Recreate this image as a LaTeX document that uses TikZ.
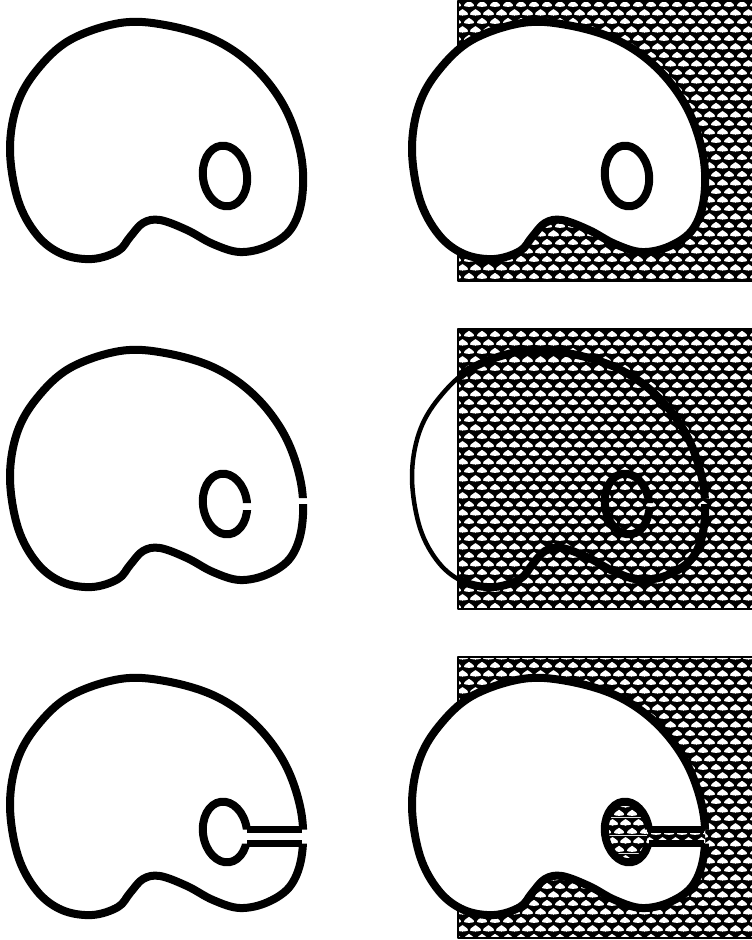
\documentclass[tikz,border=0pt]{standalone}
\usetikzlibrary{patterns}
\newcommand\scaleshape[2]{%
  \pgfpathmoveto{\pgfpoint{#1pt-5.2pt}{#2pt+0.7pt}}%
  \pgfpathcurveto{\pgfpoint{#1pt-3pt}{#2pt-0.5pt}}{\pgfpoint{#1pt+3pt}{#2pt-0.5pt}}{\pgfpoint{#1pt+5.2pt}{#2pt+0.7pt}}%
  \pgfpathcurveto{\pgfpoint{#1pt+5.4pt}{#2pt+3.6pt}}{\pgfpoint{#1pt+1.5pt}{#2pt+4.2pt}}{\pgfpoint{#1pt}{#2pt+6pt}}%
  \pgfpathcurveto{\pgfpoint{#1pt-1.5pt}{#2pt+4.2pt}}{\pgfpoint{#1pt-5.4pt}{#2pt+3.6pt}}{\pgfpoint{#1pt-5.2pt}{#2pt+0.7pt}}%
  \pgfpathclose}
\pgfdeclarepatterninherentlycolored{scales}
{\pgfpointorigin}{\pgfqpoint{12.5pt}{17.4pt}}{\pgfqpoint{12.5pt}{17.4pt}}
{%
  \pgfsetfillcolor{black}%
  \pgfpathrectangle{\pgfpointorigin}{\pgfqpoint{12.5pt}{17.4pt}}%
  \pgfusepath{fill}%
  \pgfsetfillcolor{white}%
  \scaleshape{6.25}{1.4}%
  \scaleshape{0}{10.1}%
  \scaleshape{12.5}{10.1}%
  \pgfusepath{fill}%
}
\newcommand\palettepath{plot[smooth cycle, tension=0.6] coordinates {(120,23) (165,25) (215,40) (255,68) (285,108) (301,155) (302,198) (291,229) (268,246) (240,252) (213,244) (187,230) (160,220) (143,223) (130,237) (118,251) (92,259) (62,254) (37,235) (18,200) (10,150) (17,105) (37,70) (70,40)}}
\newcommand\bigrect{(-500,-1000) -- (1500,-1000) -- (1500,2000) -- (-500,2000) -- cycle}
\newcommand\gapcut{(290,170) -- (290,176) -- (315,176) -- (315,170) -- cycle (238,175) -- (238,182) -- (260,182) -- (260,175) -- cycle}
\newcommand\slitcut{(238,173.5) -- (238,187.5) -- (315,187.5) -- (315,173.5) -- cycle}
\newcommand\hole[1]{\begin{scope}[rotate around={8:(225,176)}]\path[#1] (225,176) ellipse [x radius=22, y radius=30.5];\end{scope}}
\begin{document}
\begin{tikzpicture}[x=1pt,y=-1pt,line join=round,
  outline/.style={draw=black,line width=8pt},
  thinline/.style={draw=black,line width=4.5pt},
  slitline/.style={draw=black,line width=7pt},
  hatch/.style={pattern=scales},
  frame/.style={draw=black,line width=1.6pt}]
\useasboundingbox (0,0) rectangle (752,940);
\fill[white] (0,0) rectangle (752,940);
% hatched backgrounds
\fill[hatch] (458,1) rectangle (753,281);
\draw[frame] (458,1) rectangle (753,281);
\fill[hatch] (458,329) rectangle (753,609);
\draw[frame] (458,329) rectangle (753,609);
\fill[hatch] (458,657) rectangle (753,938);
\draw[frame] (458,657) rectangle (753,938);
% row 1 left
\draw[outline] \palettepath;
\hole{outline}
% row 1 right
\begin{scope}[shift={(402,0)}]
  \fill[white] \palettepath;
  \draw[outline] \palettepath;
  \hole{outline}
\end{scope}
% row 2 left
\begin{scope}[shift={(0,328)}]
  \begin{scope}
    \clip \bigrect \gapcut;
    \draw[outline] \palettepath;
    \hole{outline}
  \end{scope}
\end{scope}
% row 2 right
\begin{scope}[shift={(402,328)}]
  \begin{scope}
    \clip \bigrect \gapcut;
    \draw[thinline] \palettepath;
    \begin{scope}
      \clip (56,1) rectangle (351,281);
      \draw[outline] \palettepath;
    \end{scope}
    \hole{outline}
  \end{scope}
\end{scope}
% row 3 left
\begin{scope}[shift={(0,656)}]
  \begin{scope}
    \clip \bigrect \slitcut;
    \draw[outline] \palettepath;
    \hole{outline}
  \end{scope}
  \draw[slitline] (247,173.5) -- (302,173.5);
  \draw[slitline] (247,187.5) -- (302,187.5);
\end{scope}
% row 3 right
\begin{scope}[shift={(402,656)}]
  \fill[white] \palettepath;
  \hole{hatch}
  \fill[hatch] (245,173.5) rectangle (303,187.5);
  \begin{scope}
    \clip \bigrect \slitcut;
    \draw[outline] \palettepath;
    \hole{outline}
  \end{scope}
  \draw[slitline] (247,173.5) -- (302,173.5);
  \draw[slitline] (247,187.5) -- (302,187.5);
\end{scope}
\end{tikzpicture}
\end{document}
